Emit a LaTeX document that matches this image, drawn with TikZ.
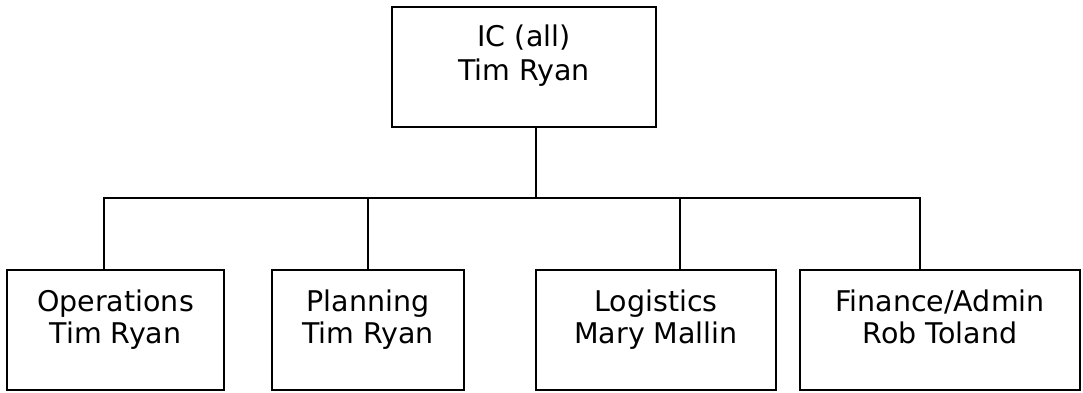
\documentclass[tikz,border=0pt]{standalone}
\usepackage{fontspec}
\setmainfont{DejaVu Sans}
\begin{document}
\begin{tikzpicture}[x=1pt,y=-1pt,
  box/.style={draw=black, line width=1.8pt, minimum height=120pt, inner sep=0pt},
  lbl/.style={align=center, font=\fontsize{28.5pt}{32pt}\selectfont, inner sep=0pt},
  conn/.style={line width=1.8pt}]
\useasboundingbox (0,0) rectangle (1083,392);
% boxes
\node[box, minimum width=264pt] (ic)  at (524,67) {};
\node[box, minimum width=217pt] (ops) at (115.5,330) {};
\node[box, minimum width=192pt] (pln) at (368,330) {};
\node[box, minimum width=240pt] (lgs) at (656,330) {};
\node[box, minimum width=280pt] (fin) at (940,330) {};
% labels
\node[lbl, font=\fontsize{28.5pt}{34pt}\selectfont] (icT) at ([yshift=10pt]ic.center) {\strut IC (all)\\Tim Ryan\strut};
\node[lbl] (opsT) at ([yshift=8.5pt]ops.center) {\strut Operations\\Tim Ryan\strut};
\node[lbl] (plnT) at ([yshift=8.5pt]pln.center) {\strut Planning\\Tim Ryan\strut};
\node[lbl] (lgsT) at ([yshift=8.5pt]lgs.center) {\strut Logistics\\Mary Mallin\strut};
\node[lbl] (finT) at ([yshift=8.5pt]fin.center) {\strut Finance/Admin\\Rob Toland\strut};
% connector points
\coordinate (hub) at (536,198);
\coordinate (d1) at (104,198);
\coordinate (d2) at (368,198);
\coordinate (d3) at (680,198);
\coordinate (d4) at (920,198);
% connectors
\draw[conn] (ic.south -| hub) -- (hub);
\draw[conn] (ops.north -| d1) -- (d1) -- (d4) -- (fin.north -| d4);
\draw[conn] (d2) -- (pln.north -| d2);
\draw[conn] (d3) -- (lgs.north -| d3);
\end{tikzpicture}
\end{document}
